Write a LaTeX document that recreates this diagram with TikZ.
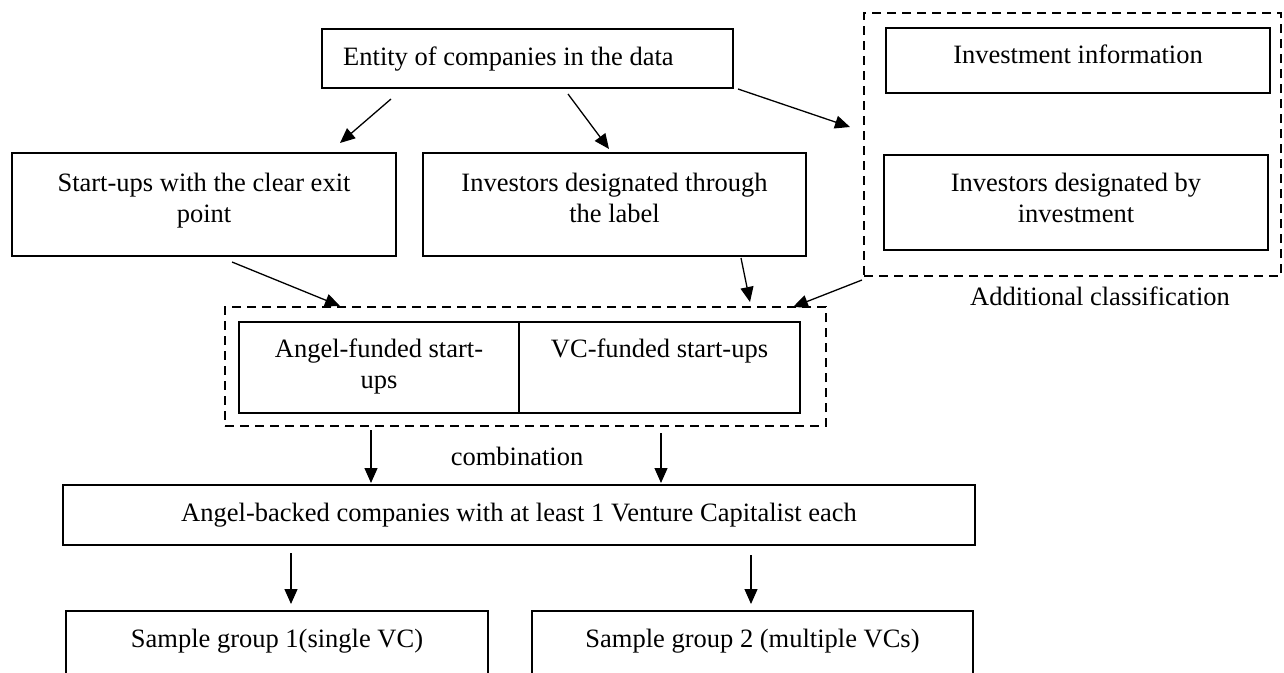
\documentclass[tikz,border=0pt]{standalone}
\usepackage{fontspec}
\setmainfont{Liberation Serif}
\usetikzlibrary{arrows.meta}
\tikzset{
  box/.style={draw, line width=1.8pt, inner sep=0pt},
  dashbox/.style={draw, dash pattern=on 9pt off 6pt, line width=2.5pt, inner sep=0pt},
  txt/.style={font=\fontsize{26.5}{31}\selectfont, inner sep=0pt, align=center, anchor=base},
  arr/.style={-{Triangle[length=15pt,width=13pt]}, line width=1.3pt}
}
\begin{document}
\begin{tikzpicture}[x=1pt,y=-1pt]
\useasboundingbox (0,0) rectangle (1284,672);
\clip (0,0) rectangle (1284,672);
% dashed groups
\node[dashbox, minimum width=417pt, minimum height=263pt] (addgrp) at (1072.5,144.5) {};
\node[dashbox, minimum width=601pt, minimum height=119pt] (midgrp) at (525.5,366.5) {};
% boxes
\node[box, minimum width=411pt, minimum height=59pt] (ent) at (527.5,58.5) {};
\node[txt, anchor=base west] (entt) at (343,65) {Entity of companies in the data};
\node[box, minimum width=384pt, minimum height=65pt] (inv) at (1078,60.5) {};
\node[txt] (invt) at (1078,63) {Investment information};
\node[box, minimum width=384pt, minimum height=95pt] (ivb) at (1076,202.5) {};
\node[txt] (ivbt) at (1076,222) {Investors designated by\\investment};
\node[txt] (addt) at (1100,305) {Additional classification};
\node[box, minimum width=384pt, minimum height=103pt] (su) at (204,204.5) {};
\node[txt] (sut) at (204,222) {Start-ups with the clear exit\\point};
\node[box, minimum width=383pt, minimum height=103pt] (lab) at (614.5,204.5) {};
\node[txt] (labt) at (614.5,222) {Investors designated through\\the label};
\node[box, minimum width=280pt, minimum height=91pt] (ang) at (379,367.5) {};
\node[txt] (angt) at (379,388) {Angel-funded start-\\ups};
\node[box, minimum width=281pt, minimum height=91pt] (vc) at (659.5,367.5) {};
\node[txt] (vct) at (659.5,357) {VC-funded start-ups};
\node[txt] (comb) at (517,465) {combination};
\node[box, minimum width=912pt, minimum height=60pt] (ab) at (519,515) {};
\node[txt] (abt) at (519,521) {Angel-backed companies with at least 1 Venture Capitalist each};
\node[box, minimum width=422pt, minimum height=90pt] (s1) at (277,656) {};
\node[txt] (s1t) at (277,647) {Sample group 1(single VC)};
\node[box, minimum width=441pt, minimum height=90pt] (s2) at (752.5,656) {};
\node[txt] (s2t) at (752.5,647) {Sample group 2 (multiple VCs)};
% arrow end points
\coordinate (a1s) at (391,99);  \coordinate (a1e) at (340,143);
\coordinate (a2s) at (568,94);  \coordinate (a2e) at (609,149);
\coordinate (a3s) at (738,89);  \coordinate (a3e) at (850,127);
\coordinate (a4s) at (232,262); \coordinate (a4e) at (340,306);
\coordinate (a5s) at (741,258); \coordinate (a5e) at (750,302);
\coordinate (a6s) at (862,280); \coordinate (a6e) at (793,307);
\coordinate (a7s) at (371,430); \coordinate (a7e) at (371,483);
\coordinate (a8s) at (661,433); \coordinate (a8e) at (661,483);
\coordinate (a9s) at (291,553); \coordinate (a9e) at (291,604);
\coordinate (a10s) at (751,555); \coordinate (a10e) at (751,604);
\draw[arr] (a1s) -- (a1e);
\draw[arr] (a2s) -- (a2e);
\draw[arr] (a3s) -- (a3e);
\draw[arr] (a4s) -- (a4e);
\draw[arr] (a5s) -- (a5e);
\draw[arr] (a6s) -- (a6e);
\draw[arr] (a7s) -- (a7e);
\draw[arr] (a8s) -- (a8e);
\draw[arr] (a9s) -- (a9e);
\draw[arr] (a10s) -- (a10e);
\end{tikzpicture}
\end{document}
